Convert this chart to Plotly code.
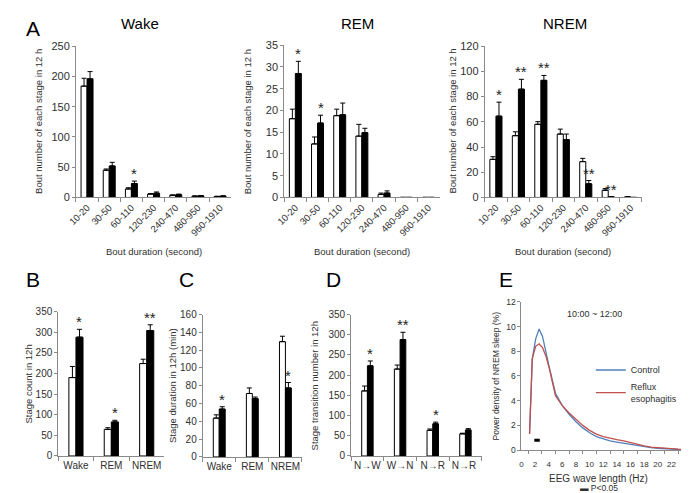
import plotly.graph_objects as go

# ---------------- data ----------------
bins = ["10-20", "30-50", "60-110", "120-230", "240-470", "480-950", "960-1910"]

wake_ctrl = [184, 45, 14, 5.5, 3.5, 2, 1.5]
wake_ctrl_err = [13, 2, 2, 1, 0.7, 0.5, 0.5]
wake_re = [196, 52, 23, 7, 4.5, 2.5, 2]
wake_re_err = [12, 6, 4, 2, 1, 0.7, 0.8]
wake_sig = ["", "", "*", "", "", "", ""]

rem_ctrl = [18.1, 12.3, 18.8, 14.1, 0.7, 0, 0]
rem_ctrl_err = [2.2, 1.6, 1.5, 2.7, 0.3, 0, 0]
rem_re = [28.5, 17.1, 19.0, 14.9, 1.0, 0, 0]
rem_re_err = [2.8, 1.8, 2.7, 1.0, 0.5, 0, 0]
rem_sig = ["*", "*", "", "", "", "", ""]

nrem_ctrl = [30.2, 49, 58, 50.3, 28.4, 5.7, 0.5]
nrem_ctrl_err = [2.1, 3.1, 2.1, 3.9, 2.6, 1.3, 0]
nrem_re = [64.5, 85.9, 92.9, 45.9, 10.8, 0.5, 0]
nrem_re_err = [11.1, 7.8, 3.9, 4.4, 2.6, 0, 0]
nrem_sig = ["*", "**", "**", "", "**", "**", ""]

stages = ["Wake", "REM", "NREM"]
count_ctrl = [190, 64.5, 224]
count_ctrl_err = [27, 4, 10.5]
count_re = [288, 82.5, 304]
count_re_err = [19, 4, 14]
count_sig = ["*", "*", "**"]

dur_ctrl = [43.6, 71.3, 129.5]
dur_ctrl_err = [3.7, 6.2, 6.1]
dur_re = [53.8, 65.5, 77.5]
dur_re_err = [2.6, 1.8, 6.1]
dur_sig = ["*", "", "*"]

trans_labels = ["N→W", "W→N", "N→R", "N→R "]
trans_ctrl = [161, 215, 63.5, 54.7]
trans_ctrl_err = [12, 10, 3.3, 1.6]
trans_re = [223, 288, 79.6, 64.4]
trans_re_err = [12, 18, 4.1, 3.2]
trans_sig = ["*", "**", "*", ""]

freq_hz = [1.2, 1.6, 2.1, 2.6, 3.1, 3.6, 4.1, 5, 6, 7, 8, 9, 10, 11, 12,
           13, 14, 15, 16, 17, 18, 19, 20, 21, 22, 23, 24]
power_ctrl = [1.3, 7.4, 9.0, 9.8, 9.2, 7.9, 6.7, 4.6, 3.6, 2.9, 2.3, 1.8, 1.4,
              1.1, 0.9, 0.75, 0.65, 0.55, 0.45, 0.35, 0.25, 0.2, 0.15, 0.1,
              0.08, 0.05, 0.03]
power_re = [1.3, 7.4, 8.4, 8.6, 8.3, 7.6, 6.6, 4.4, 3.6, 3.0, 2.5, 2.0, 1.6,
            1.3, 1.1, 0.95, 0.85, 0.75, 0.6, 0.5, 0.35, 0.25, 0.2, 0.12, 0.1,
            0.08, 0.05]
sig_band_hz = [1.9, 2.7]
sig_band_y = 0.8

# ---------------- layout helpers ----------------
W, H = 689, 493
FONT = "Arial, Liberation Sans, sans-serif"
AX = "#8a8a8a"
TXT = "#303030"


def px_x(p):
    return p / W


def px_y(p):
    return 1 - p / H


def xdom(a, b):
    return [a / W, b / W]


def ydom(top, bottom):
    return [1 - bottom / H, 1 - top / H]


fig = go.Figure()
layout = dict(
    width=W, height=H, margin=dict(l=0, r=0, t=0, b=0),
    paper_bgcolor="white", plot_bgcolor="white",
    barmode="overlay", font=dict(family=FONT, color=TXT),
    showlegend=True,
)
annotations = []

panels = [
    (1, bins, wake_ctrl, wake_ctrl_err, wake_re, wake_re_err, wake_sig,
     (60, 218), (33, 188), 250, 50, 0.27, -45, 9.5, 11),
    (2, bins, rem_ctrl, rem_ctrl_err, rem_re, rem_re_err, rem_sig,
     (272, 430), (32, 188), 35, 5, 0.27, -45, 9.5, 11),
    (3, bins, nrem_ctrl, nrem_ctrl_err, nrem_re, nrem_re_err, nrem_sig,
     (476, 636), (33, 188), 120, 20, 0.27, -45, 9.5, 11),
    (4, stages, count_ctrl, count_ctrl_err, count_re, count_re_err, count_sig,
     (42, 150), (305, 453), 350, 50, 0.2, 0, 10, 10),
    (5, stages, dur_ctrl, dur_ctrl_err, dur_re, dur_re_err, dur_sig,
     (189, 290), (308, 454), 160, 20, 0.18, 0, 10, 10),
    (6, trans_labels, trans_ctrl, trans_ctrl_err, trans_re, trans_re_err, trans_sig,
     (340, 473), (308, 453), 350, 50, 0.175, 0, 10, 10),
]

for (i, cats, c, ce, r, re_, sig, xd, yd, ymax, dt, bw, ta, xf, yf) in panels:
    xa = "x" if i == 1 else f"x{i}"
    ya = "y" if i == 1 else f"y{i}"
    fig.add_trace(go.Bar(
        x=cats, y=c, xaxis=xa, yaxis=ya, width=bw, offset=-bw,
        marker=dict(color="white", line=dict(color="black", width=1)),
        error_y=dict(type="data", array=ce, arrayminus=[0] * len(ce),
                     symmetric=False, color="black", thickness=1, width=2.5),
        showlegend=False, hoverinfo="skip"))
    fig.add_trace(go.Bar(
        x=cats, y=r, xaxis=xa, yaxis=ya, width=bw, offset=0,
        marker=dict(color="black", line=dict(color="black", width=1)),
        error_y=dict(type="data", array=re_, arrayminus=[0] * len(re_),
                     symmetric=False, color="black", thickness=1, width=2.5),
        showlegend=False, hoverinfo="skip"))
    key = "" if i == 1 else str(i)
    layout["xaxis" + key] = dict(
        domain=xdom(*xd), anchor=ya, type="category",
        range=[-0.5, len(cats) - 0.5], tickson="boundaries",
        ticks="outside", ticklen=4, tickcolor=AX, showline=True,
        linecolor=AX, linewidth=1, showgrid=False, zeroline=False,
        tickangle=ta, tickfont=dict(size=xf, color=TXT, family=FONT),
        fixedrange=True)
    layout["yaxis" + key] = dict(
        domain=ydom(*yd), anchor=xa, range=[0, ymax], dtick=dt,
        ticks="outside", ticklen=3, tickcolor=AX, showline=True,
        linecolor=AX, linewidth=1, showgrid=False, zeroline=False,
        tickfont=dict(size=yf, color=TXT, family=FONT), fixedrange=True)
    for k, s in enumerate(sig):
        if s:
            annotations.append(dict(
                xref=xa, yref=ya, x=k + bw / 2, y=r[k] + re_[k], text=s,
                showarrow=False, yanchor="bottom", xanchor="center",
                yshift=-3, font=dict(size=15, color="#222", family=FONT)))

# ---------------- panel E ----------------
fig.add_trace(go.Scatter(
    x=freq_hz, y=power_ctrl, mode="lines", name="Control",
    line=dict(color="#4F81BD", width=1.3), xaxis="x7", yaxis="y7"))
fig.add_trace(go.Scatter(
    x=freq_hz, y=power_re, mode="lines", name="Reflux<br>esophagitis",
    line=dict(color="#C0504D", width=1.3), xaxis="x7", yaxis="y7"))
fig.add_trace(go.Scatter(
    x=sig_band_hz, y=[sig_band_y, sig_band_y], mode="lines",
    line=dict(color="black", width=3), xaxis="x7", yaxis="y7",
    showlegend=False, hoverinfo="skip"))

layout["xaxis7"] = dict(
    domain=xdom(513.3, 682), anchor="y7", range=[0, 24.3], dtick=2,
    ticks="", showline=True, linecolor=AX, linewidth=1, showgrid=False,
    zeroline=False, tickfont=dict(size=8, color=TXT, family=FONT),
    minor=dict(dtick=1, ticks="outside", ticklen=3, tickcolor=AX),
    ticklabelstandoff=6, ticklabeloverflow="allow", fixedrange=True)
layout["yaxis7"] = dict(
    domain=ydom(295, 447), anchor="x7", range=[0, 12], dtick=2,
    ticks="outside", ticklen=3, tickcolor=AX, showline=True, linecolor=AX,
    linewidth=1, showgrid=False, zeroline=False,
    tickfont=dict(size=8.5, color=TXT, family=FONT), fixedrange=True)
layout["legend"] = dict(
    x=px_x(584), y=px_y(350), xanchor="left", yanchor="top",
    font=dict(size=9, color=TXT, family=FONT), bgcolor="rgba(0,0,0,0)",
    itemwidth=30, tracegroupgap=0)


def txt(x, y, s, size, angle=0, color=TXT):
    annotations.append(dict(
        xref="paper", yref="paper", x=px_x(x), y=px_y(y), text=s,
        showarrow=False, xanchor="center", yanchor="middle",
        textangle=angle, font=dict(size=size, color=color, family=FONT)))


# panel letters
txt(16, 15, "A", 21, color="black")
txt(16, 272, "B", 21, color="black")
txt(172, 272, "C", 21, color="black")
txt(322, 272, "D", 21, color="black")
txt(498, 272, "E", 21, color="black")
# titles
txt(125, 10, "Wake", 15, color="black")
txt(347, 10, "REM", 15, color="black")
txt(558, 10, "NREM", 15, color="black")
# axis titles
for xl, xc in [(22, 139), (234, 351), (443, 556)]:
    txt(xl, 110, "Bout number of each stage in 12 h", 9.5, angle=-90)
    txt(xc, 243, "Bout duration (second)", 9.5)
txt(12, 379, "Stage count in 12h", 9.5, angle=-90)
txt(158, 381, "Stage duration in 12h (min)", 9.5, angle=-90)
txt(303, 381, "Stage transition number in 12h", 9.5, angle=-90)
txt(487, 371, "Power density of NREM sleep (%)", 8.5, angle=-90)
txt(592, 476, "EEG wave length (Hz)", 10)
txt(592, 486, "▬ P<0.05", 8.5)
txt(588, 307, "10:00 ~ 12:00", 9)

layout["annotations"] = annotations
fig.update_layout(**layout)
fig.write_html("out.html")
